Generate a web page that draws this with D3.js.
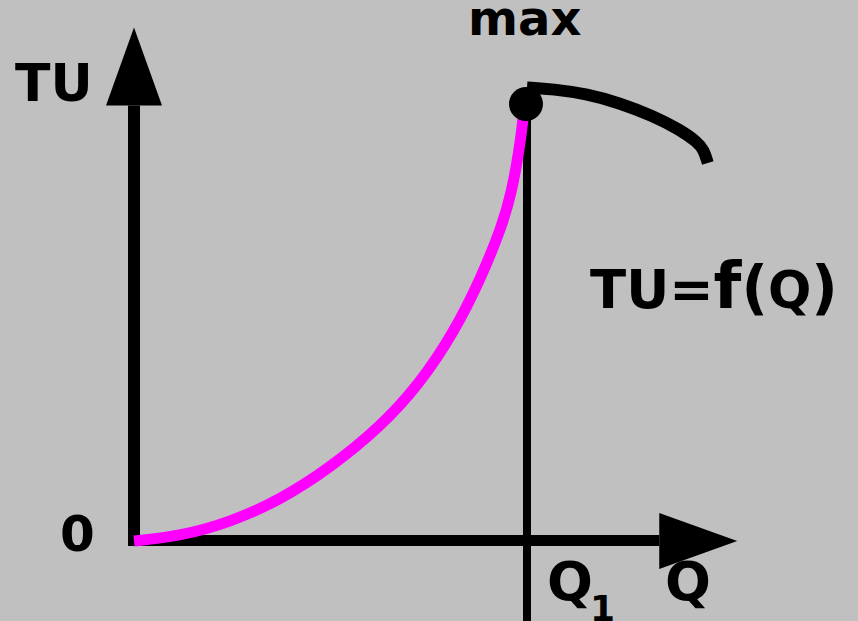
<!DOCTYPE html>
<html>
<head>
<meta charset="utf-8">
<script src="https://cdn.jsdelivr.net/npm/d3@7"></script>
<style>
  html, body { margin: 0; padding: 0; background: #c0c0c0; }
  svg { display: block; }
  text { font-family: 'DejaVu Sans', Verdana, sans-serif; font-weight: bold; fill: #000; }
</style>
</head>
<body>
<svg width="858" height="621"></svg>
<script>
// rising part of total utility, up to the maximum at Q1
const risingQ = [0, 0.7, 1.47, 2.23, 2.99, 3.76, 4.35, 4.9, 5.31, 5.62, 5.77, 5.88, 5.94, 5.97];
const risingTU = [0, 0.11, 0.43, 0.94, 1.67, 2.61, 3.57, 4.81, 6.06, 7.21, 8.01, 8.95, 9.63, 10.21];
// falling part after the maximum
const fallingQ = [6.0, 6.4, 6.92, 7.42, 7.92, 8.34, 8.6, 8.7, 8.76];
const fallingTU = [10.38, 10.34, 10.23, 10.02, 9.73, 9.41, 9.13, 8.95, 8.65];
const q1 = 6;
const tuMax = 10;
const qArrowEnd = 9.21;
const tuArrowEnd = 11.75;

const svg = d3.select('svg');

const x = d3.scaleLinear().domain([0, 10]).range([134, 789]);
const y = d3.scaleLinear().domain([0, 10]).range([541, 104]);

const line = d3
  .line()
  .x((d) => x(d[0]))
  .y((d) => y(d[1]))
  .curve(d3.curveBasis);

const arrowLen = 78;
const arrowHalf = 28;

// y axis with arrow
svg
  .append('line')
  .attr('x1', x(0))
  .attr('x2', x(0))
  .attr('y1', y(0))
  .attr('y2', y(tuArrowEnd) + arrowLen)
  .attr('stroke', '#000')
  .attr('stroke-width', 12);
svg
  .append('path')
  .attr('d', () => {
    const tx = x(0), ty = y(tuArrowEnd);
    return `M${tx},${ty}L${tx + arrowHalf},${ty + arrowLen}L${tx - arrowHalf},${ty + arrowLen}Z`;
  })
  .attr('fill', '#000');

// x axis with arrow
svg
  .append('line')
  .attr('x1', x(0) - 6)
  .attr('x2', x(qArrowEnd) - arrowLen)
  .attr('y1', y(0) - 0.5)
  .attr('y2', y(0) - 0.5)
  .attr('stroke', '#000')
  .attr('stroke-width', 11);
svg
  .append('path')
  .attr('d', () => {
    const tx = x(qArrowEnd), ty = y(0);
    return `M${tx},${ty}L${tx - arrowLen},${ty - arrowHalf}L${tx - arrowLen},${ty + arrowHalf}Z`;
  })
  .attr('fill', '#000');

// vertical line at Q1
svg
  .append('line')
  .attr('x1', x(q1))
  .attr('x2', x(q1))
  .attr('y1', y(tuMax))
  .attr('y2', 621)
  .attr('stroke', '#000')
  .attr('stroke-width', 8);

// TU curves
svg
  .append('path')
  .datum(d3.zip(risingQ, risingTU))
  .attr('d', line)
  .attr('fill', 'none')
  .attr('stroke', '#ff00ff')
  .attr('stroke-width', 11);

svg
  .append('circle')
  .attr('cx', x(q1) - 1)
  .attr('cy', y(tuMax))
  .attr('r', 17)
  .attr('fill', '#000');

svg
  .append('path')
  .datum(d3.zip(fallingQ, fallingTU))
  .attr('d', line)
  .attr('fill', 'none')
  .attr('stroke', '#000')
  .attr('stroke-width', 12);

// labels
svg.append('text').attr('x', 15).attr('y', 101).attr('font-size', 52).text('TU');
svg.append('text').attr('x', 468).attr('y', 35).attr('font-size', 48).text('max');
svg.append('text').attr('x', 60).attr('y', 551).attr('font-size', 50).text('0');

const q1Label = svg.append('text').attr('x', 547).attr('y', 600).attr('font-size', 54);
q1Label.append('tspan').text('Q');
q1Label.append('tspan').attr('x', 590).attr('y', 621).attr('font-size', 36).text('1');

svg.append('text').attr('x', 665).attr('y', 600).attr('font-size', 54).text('Q');

const fLabel = svg.append('text').attr('x', 590).attr('y', 308);
fLabel.append('tspan').attr('font-size', 53).text('TU=');
fLabel.append('tspan').attr('font-size', 64).text('f');
fLabel.append('tspan').attr('font-size', 58).text('(');
fLabel.append('tspan').attr('font-size', 51).text('Q');
fLabel.append('tspan').attr('font-size', 58).text(')');
</script>
</body>
</html>
